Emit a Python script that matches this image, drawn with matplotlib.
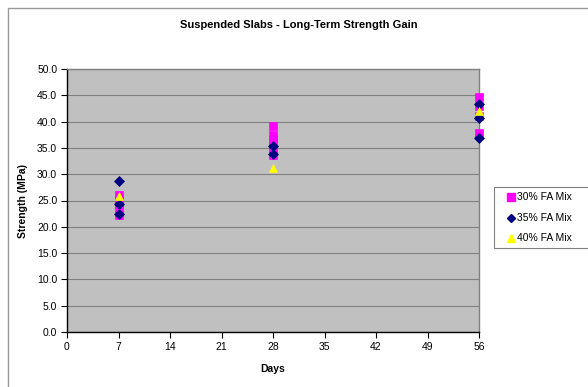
import matplotlib
matplotlib.use("Agg")
import matplotlib.pyplot as plt
from matplotlib.patches import Rectangle
from matplotlib.lines import Line2D

plt.rcParams['font.family'] = ['Liberation Sans', 'DejaVu Sans']

title = "Suspended Slabs - Long-Term Strength Gain"
x_label = "Days"
y_label = "Strength (MPa)"
series_names = ["30% FA Mix", "35% FA Mix", "40% FA Mix"]

mix30_days = [7, 7, 7, 7, 7, 28, 28, 28, 28, 28, 28, 56, 56, 56, 56]
mix30_strength = [26.1, 25.2, 24.3, 23.3, 22.3, 39.2, 37.4, 36.5, 35.5, 34.6, 33.7, 44.6, 42.9, 41.0, 37.9]
mix35_days = [7, 7, 7, 28, 28, 56, 56, 56]
mix35_strength = [28.8, 24.4, 22.4, 35.4, 33.8, 43.3, 40.6, 36.8]
mix40_days = [7, 28, 56]
mix40_strength = [25.9, 31.2, 42.0]

x_ticks = [0, 7, 14, 21, 28, 35, 42, 49, 56]
y_ticks = [0, 5, 10, 15, 20, 25, 30, 35, 40, 45, 50]

W, H = 588, 387
fig = plt.figure(figsize=(W / 100, H / 100), dpi=100)
fig.patch.set_facecolor('white')

# outer chart border
fig.add_artist(Rectangle((8 / W, -0.1), 1.2, 1 - 8 / H + 0.1, transform=fig.transFigure,
                         fill=False, edgecolor='#9a9a9a', linewidth=1.0))

ax = fig.add_axes([67 / W, 1 - 332 / H, 412 / W, 263 / H])
ax.set_facecolor('#C0C0C0')
ax.set_xlim(0, 56)
ax.set_ylim(0, 50)
ax.set_xticks(x_ticks)
ax.set_yticks(y_ticks)
ax.set_yticklabels([f"{v:.1f}" for v in y_ticks])
ax.set_xticklabels([str(v) for v in x_ticks])
ax.tick_params(axis='both', direction='out', length=4, width=0.8, labelsize=7.5, colors='black', pad=3)
ax.yaxis.grid(True, color='#808080', linewidth=0.8)
ax.set_axisbelow(True)
for s in ['left', 'bottom']:
    ax.spines[s].set_color('black')
    ax.spines[s].set_linewidth(1.0)
for s in ['top', 'right']:
    ax.spines[s].set_color('#808080')
    ax.spines[s].set_linewidth(1.0)

ax.plot(mix30_days, mix30_strength, linestyle='none', marker='s', markersize=5.6,
        markerfacecolor='#FF00FF', markeredgecolor='#FF00FF', markeredgewidth=0.5,
        zorder=3, clip_on=False)
ax.plot(mix35_days, mix35_strength, linestyle='none', marker='D', markersize=4.8,
        markerfacecolor='#000080', markeredgecolor='#000080', markeredgewidth=0.5,
        zorder=4, clip_on=False)
ax.plot(mix40_days, mix40_strength, linestyle='none', marker='^', markersize=5.8,
        markerfacecolor='#FFFF00', markeredgecolor='#FFFF00', markeredgewidth=0.5,
        zorder=5, clip_on=False)

fig.text(298.5 / W, 1 - 25 / H, title, ha='center', va='center', fontsize=8, fontweight='bold')
fig.text(273 / W, 1 - 369 / H, x_label, ha='center', va='center', fontsize=7.5, fontweight='bold')
fig.text(23 / W, 1 - 200.5 / H, y_label, ha='center', va='center', fontsize=7.5,
         fontweight='bold', rotation=90)

# legend
fig.add_artist(Rectangle((494 / W, 1 - 247.5 / H), 0.3, 60 / H, transform=fig.transFigure,
                         fill=True, facecolor='white', edgecolor='#808080', linewidth=0.8))
leg_markers = [('s', '#FF00FF', 5.2), ('D', '#000080', 4.2), ('^', '#FFFF00', 5.5)]
leg_rows = [196.7, 217.7, 238.3]
for (m, c, ms), name, yy in zip(leg_markers, series_names, leg_rows):
    fig.add_artist(Line2D([511 / W], [1 - yy / H], transform=fig.transFigure, linestyle='none',
                          marker=m, markersize=ms, markerfacecolor=c, markeredgecolor=c))
    fig.text(517 / W, 1 - yy / H, name, ha='left', va='center', fontsize=7.5)

fig.savefig("out.png", dpi=100)
